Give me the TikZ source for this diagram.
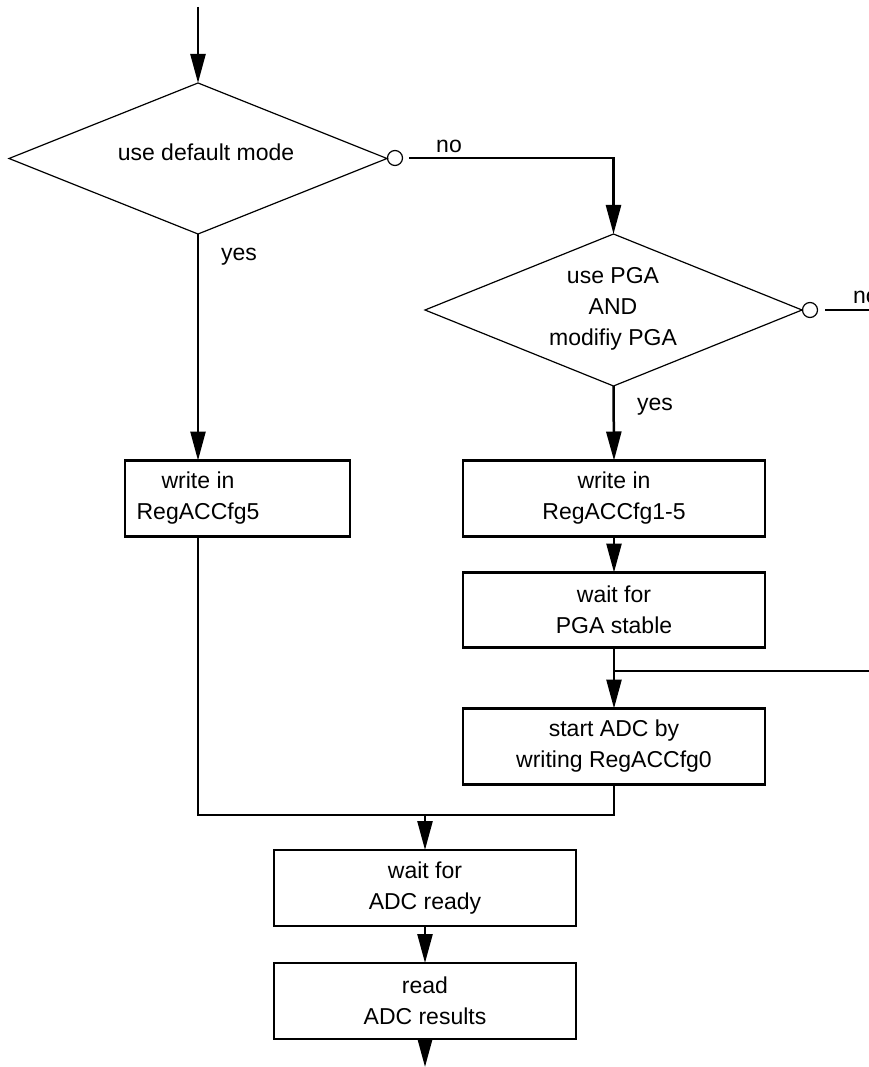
\documentclass[tikz,border=0pt]{standalone}
\usepackage{fontspec}
\setmainfont{Liberation Sans}
\usetikzlibrary{shapes.geometric,arrows.meta}
\begin{document}
\begin{tikzpicture}[x=1pt,y=-1pt,
  txt/.style={inner sep=0pt, outer sep=0pt, font=\fontsize{23}{31}\selectfont, align=center},
  dec/.style={diamond, draw, line width=1.2pt, inner sep=0pt, outer sep=0pt},
  stepbox/.style={rectangle, draw, line width=2.8pt, inner sep=0pt, outer sep=0pt, font=\fontsize{23}{31}\selectfont, align=center},
  conn/.style={line width=2.5pt},
  arr/.style={conn, -{Triangle[length=29pt,width=15pt]}},
  ring/.style={circle, draw, line width=1.2pt, minimum size=15pt, inner sep=0pt, outer sep=0pt},
]
\useasboundingbox (0,0) rectangle (869,1067);

% decisions
\node[dec, minimum width=378pt, minimum height=151pt] (d1) at (198,158.5) {};
\node[txt] (d1t) at (206,152) {use default mode};
\node[ring] (c1) at (395,158) {};

\node[dec, minimum width=377pt, minimum height=152pt] (d2) at (613.5,310) {};
\node[txt] (d2t) at (613,309) {use PGA\\AND\\modifiy PGA};
\node[ring] (c2) at (810,310) {};

% boxes
\node[stepbox, minimum width=225pt, minimum height=76pt] (b0) at (237.5,498.5) {};
\node[txt] (b0t) at (198,498) {write in\\RegACCfg5};
\node[stepbox, minimum width=302pt, minimum height=76pt] (b1) at (614,498.5) {write in\\RegACCfg1-5};
\node[stepbox, minimum width=302pt, minimum height=75pt] (b2) at (614,610) {wait for\\PGA stable};
\node[stepbox, minimum width=302pt, minimum height=76pt] (b3) at (614,746.5) {start ADC by\\writing RegACCfg0};
\node[stepbox, minimum width=302pt, minimum height=76pt] (b4) at (425,888) {wait for\\ADC ready};
\node[stepbox, minimum width=302pt, minimum height=76pt] (b5) at (425,1001) {read\\ADC results};

% coordinates
\coordinate (start) at (198,7);
\coordinate (n1) at (409,158);
\coordinate (n2) at (825,310);
\coordinate (n2e) at (869,310);
\coordinate (j) at (614,671);
\coordinate (je) at (869,671);
\coordinate (m) at (425,815);
\coordinate (fin) at (425,1067);

% connectors
\draw[arr] (start) -- (d1.north);
\draw[arr] (n1) -| (d2.north);
\draw[conn] (n2) -- (n2e);
\draw[arr] (d1.south) -- (d1.south |- b0.north);
\draw[arr] (d2.south) -- (b1.north);
\draw[arr] (b1.south) -- (b2.north);
\draw[conn] (b2.south) -- (j);
\draw[conn] (je) -- (j);
\draw[arr] (j) -- (b3.north);
\draw[conn] (d1.south |- b0.south) |- (m);
\draw[conn] (b3.south) |- (m);
\draw[arr] (m) -- (b4.north);
\draw[arr] (b4.south) -- (b5.north);
\draw[arr] (b5.south) -- (fin);

% labels
\node[txt] (lno1) at (449,146) {no};
\node[txt] (lyes1) at (239,257) {yes};
\node[txt] (lyes2) at (655,407) {yes};
\begin{scope}
\clip (0,0) rectangle (869,1067);
\node[txt, anchor=west] (lno2) at (853,297) {no};
\end{scope}
\end{tikzpicture}
\end{document}
